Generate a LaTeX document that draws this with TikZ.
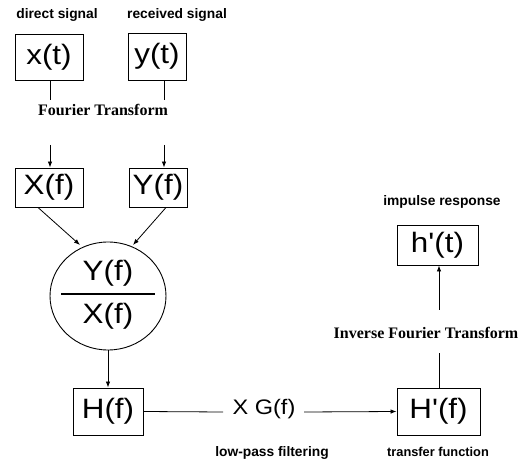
\documentclass[tikz,border=0pt]{standalone}
\usepackage{fontspec}
\setmainfont{Liberation Serif}
\newfontfamily\arialf{Liberation Sans}
\usepackage{graphicx}
\usetikzlibrary{arrows.meta,shapes.geometric}
\newcommand\wide[1]{\scalebox{1.12}[1]{#1}}
\begin{document}
\begin{tikzpicture}[x=1pt,y=-1pt,
  box/.style={draw,line width=0.9pt,inner sep=0pt,font=\arialf\fontsize{28}{30}\selectfont},
  lbl/.style={font=\arialf\bfseries\fontsize{13.8}{15}\selectfont,inner sep=0pt},
  ft/.style={font=\bfseries\fontsize{16}{18}\selectfont,inner sep=0pt},
  ln/.style={line width=0.8pt},
  arr/.style={line width=0.8pt,-{Latex[length=6pt,width=4.5pt]}}]
\useasboundingbox (0,0) rectangle (525,462);
% boxes
\node[box,minimum width=68pt,minimum height=46pt] (xt) at (49,57.5) {\wide{x(t)}};
\node[box,minimum width=58pt,minimum height=47pt] (yt) at (157,56.5) {\wide{y(t)}};
\node[box,minimum width=68pt,minimum height=39pt] (Xf) at (49,187.5) {\wide{X(f)}};
\node[box,minimum width=58pt,minimum height=39pt] (Yf) at (158,187.5) {\wide{Y(f)}};
\node[draw,ellipse,line width=0.9pt,minimum width=116pt,minimum height=108pt,inner sep=0pt] (ratio) at (108,296) {};
\node[font=\arialf\fontsize{28}{30}\selectfont,inner sep=0pt] (num) at (108,273) {\wide{Y(f)}};
\node[font=\arialf\fontsize{28}{30}\selectfont,inner sep=0pt] (den) at (108,316) {\wide{X(f)}};
\node[box,minimum width=70pt,minimum height=47pt] (Hf) at (108,411.5) {\wide{H(f)}};
\node[box,minimum width=81pt,minimum height=40pt] (hpt) at (437.5,245) {\wide{h'(t)}};
\node[box,minimum width=83pt,minimum height=47pt] (Hpf) at (438.5,411.5) {\wide{H'(f)}};
% labels
\node[lbl] (l1) at (57,15) {direct signal};
\node[lbl] (l2) at (177,15) {received signal};
\node[ft] (ft1) at (103,110) {Fourier Transform};
\node[lbl] (l3) at (442,202) {impulse response};
\node[ft] (ft2) at (426,333) {Inverse Fourier Transform};
\node[font=\arialf\fontsize{21}{23}\selectfont,inner sep=0pt] (G) at (264,409) {\wide{X G(f)}};
\node[lbl] (l4) at (272,453) {low-pass filtering};
\node[lbl,font=\arialf\bfseries\fontsize{12.8}{14}\selectfont] (l5) at (438,452) {transfer function};
% fraction bar
\coordinate (fb1) at (61,294);
\coordinate (fb2) at (155,294);
\draw[line width=1.4pt] (fb1) -- (fb2);
% coordinates
\coordinate (a1) at (50,100);
\coordinate (a2) at (50,145);
\coordinate (b1) at (164,100);
\coordinate (b2) at (164,145);
\coordinate (c1) at (38,207.5);
\coordinate (c2) at (80,245);
\coordinate (d1) at (166,207.5);
\coordinate (d2) at (133,245);
\coordinate (g1) at (223,412);
\coordinate (g2) at (304,412);
\coordinate (i1) at (439,353);
\coordinate (i2) at (439,310);
% connectors
\draw[ln] (xt.south -| a1) -- (a1);
\draw[arr] (a2) -- (Xf.north -| a2);
\draw[ln] (yt.south -| b1) -- (b1);
\draw[arr] (b2) -- (Yf.north -| b2);
\draw[arr] (c1) -- (c2);
\draw[arr] (d1) -- (d2);
\draw[arr] (ratio.south) -- (Hf.north);
\draw[ln] (Hf.east) -- (g1);
\draw[arr] (g2) -- (Hpf.west);
\draw[ln] (Hpf.north -| i1) -- (i1);
\draw[arr] (i2) -- (hpt.south -| i2);
\end{tikzpicture}
\end{document}
